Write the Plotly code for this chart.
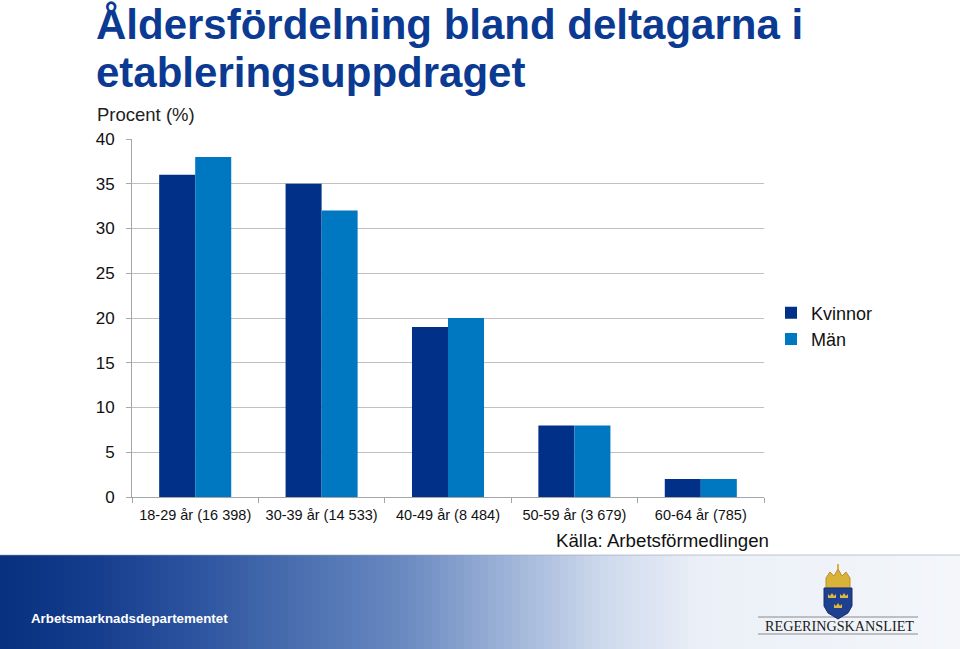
import plotly.graph_objects as go

categories = ["18-29 år (16 398)", "30-39 år (14 533)", "40-49 år (8 484)",
              "50-59 år (3 679)", "60-64 år (785)"]
kvinnor = [36, 35, 19, 8, 2]
man = [38, 32, 20, 8, 2]
y_ticks = [0, 5, 10, 15, 20, 25, 30, 35, 40]

W, H = 960, 649
L, R, T, B = 132, 764, 139, 497  # plot area in pixels


def px(x):
    return (x - L) / (R - L)


def py(y):
    return (B - y) / (B - T)


fig = go.Figure()
fig.add_trace(go.Bar(name="Kvinnor", x=categories, y=kvinnor, marker_color="#003087",
                     marker_line_width=0))
fig.add_trace(go.Bar(name="Män", x=categories, y=man, marker_color="#0077C1",
                     marker_line_width=0))

shapes = []
# gradient band at bottom
stops = [(0, (7, 48, 127)), (100, (22, 62, 142)), (200, (46, 85, 160)), (300, (75, 111, 176)),
         (400, (104, 136, 192)), (500, (154, 176, 214)), (600, (204, 216, 236)),
         (700, (235, 240, 248)), (960, (244, 246, 250))]


def col_at(x):
    for (x0, c0), (x1, c1) in zip(stops[:-1], stops[1:]):
        if x0 <= x <= x1:
            t = (x - x0) / (x1 - x0)
            return "rgb(%d,%d,%d)" % tuple(round(a + (b - a) * t) for a, b in zip(c0, c1))
    return "rgb(244,246,250)"


step = 8
for x in range(0, W, step):
    shapes.append(dict(type="rect", xref="paper", yref="paper", x0=px(x), x1=px(x + step + 0.5),
                       y0=py(555), y1=py(H + 2), fillcolor=col_at(x + step / 2), line_width=0,
                       layer="below"))
shapes.append(dict(type="line", xref="paper", yref="paper", x0=px(0), x1=px(W), y0=py(555), y1=py(555),
                   line=dict(color="rgba(150,160,180,0.6)", width=1)))


def path(points):
    return "M " + " L ".join("%.5f,%.5f" % (px(a), py(b)) for a, b in points) + " Z"


# logo lines
for yy in (617, 634):
    shapes.append(dict(type="line", xref="paper", yref="paper", x0=px(758), x1=px(918), y0=py(yy), y1=py(yy),
                       line=dict(color="#8a8a8a", width=1)))
# crown
crown = [(826, 588), (826, 578), (830, 572), (834, 576), (838, 569), (842, 576), (846, 572), (850, 578),
         (850, 588)]
shapes.append(dict(type="path", xref="paper", yref="paper", path=path(crown), fillcolor="#D9B23A",
                   line=dict(color="#B8902A", width=1)))
shapes.append(dict(type="line", xref="paper", yref="paper", x0=px(838), x1=px(838), y0=py(569), y1=py(564),
                   line=dict(color="#D9B23A", width=2)))
# shield
shield = [(824, 588), (852, 588), (852, 606), (848, 613), (838, 619), (828, 613), (824, 606)]
shapes.append(dict(type="path", xref="paper", yref="paper", path=path(shield), fillcolor="#1F3F8F",
                   line=dict(color="#15306E", width=1)))
# three small crowns
for cx, cy in ((832, 596), (844, 596), (838, 606)):
    sc = [(cx - 4, cy + 2), (cx - 4, cy - 2), (cx - 2, cy), (cx, cy - 3), (cx + 2, cy), (cx + 4, cy - 2),
          (cx + 4, cy + 2)]
    shapes.append(dict(type="path", xref="paper", yref="paper", path=path(sc), fillcolor="#E0B840",
                       line_width=0))


def ann(text, x, y, xanchor, size, color, family="Liberation Sans"):
    return dict(text=text, x=px(x), y=py(y), xref="paper", yref="paper", xanchor=xanchor,
                yanchor="middle", showarrow=False, font=dict(size=size, color=color, family=family))


annotations = [
    ann("<b>Åldersfördelning bland deltagarna i</b>", 94, 24, "left", 42, "#0B3A93"),
    ann("<b>etableringsuppdraget</b>", 94, 73, "left", 42, "#0B3A93"),
    ann("Procent (%)", 95, 114, "left", 18.5, "#222222"),
    ann("Källa: Arbetsförmedlingen", 771, 540, "right", 18.7, "#111111"),
    ann("<b>Arbetsmarknadsdepartementet</b>", 29, 618, "left", 13.3, "#FFFFFF"),
    ann("REGERINGSKANSLIET", 839, 626, "center", 14.2, "#1a1a1a", "Liberation Serif"),
]

fig.update_layout(
    width=W, height=H,
    margin=dict(l=L, r=W - R, t=T, b=H - B, pad=0),
    paper_bgcolor="white", plot_bgcolor="white",
    barmode="group", bargap=0.43, bargroupgap=0,
    font=dict(family="Liberation Sans", color="#111111"),
    showlegend=True,
    legend=dict(x=px(771), y=py(326), xanchor="left", yanchor="middle", font=dict(size=18),
                bgcolor="rgba(0,0,0,0)", itemwidth=30, tracegroupgap=0, traceorder="normal"),
    shapes=shapes,
    annotations=annotations,
    xaxis=dict(type="category", range=[-0.5, 4.5], showgrid=False, showline=True, linecolor="#A6A6A6",
               linewidth=1, ticks="outside", tickson="boundaries", ticklen=5, tickcolor="#A6A6A6",
               tickfont=dict(size=14.5, color="#111111"), ticklabelstandoff=5, fixedrange=True),
    yaxis=dict(range=[0, 40], tickvals=y_ticks, showgrid=True, gridcolor="#C0C0C0", gridwidth=1,
               showline=True, linecolor="#A6A6A6", ticks="outside", ticklen=5, tickcolor="#A6A6A6",
               tickfont=dict(size=17, color="#111111"), zeroline=False, ticklabelstandoff=8,
               fixedrange=True),
)

fig.write_html("out.html")
